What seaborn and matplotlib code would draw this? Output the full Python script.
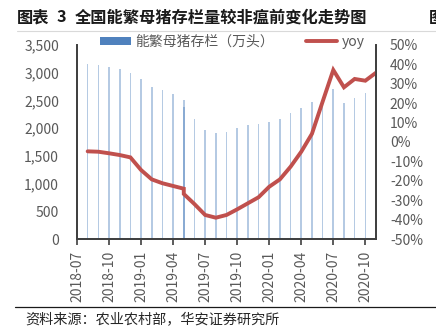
import numpy as np
import pandas as pd
import matplotlib
matplotlib.use("Agg")
import matplotlib.pyplot as plt
from matplotlib.patches import Patch
from matplotlib.lines import Line2D
import seaborn as sns

# Monthly data (month index counted from 2018-07); 2019-05 appears twice in the source table
month_idx = [1, 2, 3, 4, 5, 6, 7, 8, 9, 10, 10, 11, 12, 13, 14, 15, 16, 17,
             18, 19, 20, 21, 22, 23, 24, 25, 26, 27, 28]
sow_stock = [3147, 3135, 3099, 3063, 2991, 2883, 2739, 2685, 2619, 2505, 2385,
             2164, 1966, 1917, 1930, 2002, 2050, 2074, 2110, 2164, 2272, 2362,
             2475, 2560, 2700, 2457, 2541, 2631, np.nan]
yoy_pct = [-4.8, -5.0, -5.8, -6.7, -7.9, -14.4, -19.2, -21.2, -22.6, -24.0, -26.7,
           -31.9, -37.5, -38.9, -37.5, -34.6, -31.5, -28.4, -23.0, -19.2, -12.7,
           -5.0, 4.2, 20.7, 37.0, 28.1, 32.4, 31.5, 35.6]
tick_pos = [0, 3, 6, 9, 12, 15, 18, 21, 24, 27]
tick_labels = ["2018-07", "2018-10", "2019-01", "2019-04", "2019-07",
               "2019-10", "2020-01", "2020-04", "2020-07", "2020-10"]

bar_label = "能繁母猪存栏（万头）"
line_label = "yoy"
title_prefix = "图表"
title_no = "3"
title_main = "全国能繁母猪存栏量较非瘟前变化走势图"
next_title = "图"
source = "资料来源：农业农村部，华安证券研究所"

df = pd.DataFrame({"m": month_idx, "stock": sow_stock, "yoy": yoy_pct})

sns.set_theme(style="white")
plt.rcParams["font.family"] = ["Noto Sans CJK SC", "DejaVu Sans"]

BAR_C = "#4f81bd"
LINE_C = "#c0504d"
TXT_C = "#595959"
SPINE_C = "#404040"

fig = plt.figure(figsize=(4.36, 3.34), dpi=100)
ax = fig.add_axes([77 / 436, 1 - 239.3 / 334, (376 - 77) / 436, (239.3 - 44.7) / 334])
ax2 = ax.twinx()

# thin columns for the sow inventory
ax.bar(df["m"], df["stock"], width=0.15, color=BAR_C, alpha=0.42, linewidth=0)
ax.set_ylim(0, 3500)
ax.set_yticks(range(0, 3501, 500))
ax.set_yticklabels([f"{v:,}" for v in range(0, 3501, 500)])
ax.set_xlim(0, 28)
ax.set_xticks(tick_pos)
ax.set_xticklabels(tick_labels, rotation=90)

# year-on-year change on the right axis
sns.lineplot(data=df, x="m", y="yoy", ax=ax2, sort=False, estimator=None,
             color=LINE_C, linewidth=2.8, solid_joinstyle="miter")
ax2.set_ylim(-50, 50)
ax2.set_yticks(range(-50, 51, 10))
ax2.set_yticklabels([f"{v}%" for v in range(-50, 51, 10)])
ax2.set_xlim(0, 28)
ax2.set_xlabel("")
ax2.set_ylabel("")
ax.set_xlabel("")
ax.set_ylabel("")

for a in (ax, ax2):
    a.grid(False)
    a.spines["top"].set_visible(False)
    for s in ("left", "right", "bottom"):
        a.spines[s].set_color(SPINE_C)
        a.spines[s].set_linewidth(1.3)

ax.tick_params(axis="y", length=0, pad=13, labelsize=10, labelcolor=TXT_C)
ax2.tick_params(axis="y", length=0, pad=10, labelsize=10, labelcolor=TXT_C)
ax.tick_params(axis="x", bottom=True, length=4, width=1.2, color=SPINE_C,
               direction="out", pad=4, labelsize=10, labelcolor=TXT_C)

handles = [Patch(facecolor=BAR_C, edgecolor="none"),
           Line2D([0], [0], color=LINE_C, linewidth=2.8)]
fig.legend(handles, [bar_label, line_label], loc="center left",
           bbox_to_anchor=(100 / 436, 1 - 42 / 334), ncol=2, frameon=False,
           fontsize=10, borderpad=0, borderaxespad=0, handlelength=2.25,
           handleheight=0.55, handletextpad=0.3, columnspacing=2.3,
           labelcolor=TXT_C)

# report-style heading: label, number and caption set apart
title_kw = dict(fontsize=11.7, fontweight="heavy", color="#1a1a1a",
                va="center", ha="left")
ty = 1 - 17.5 / 334
fig.text(17 / 436, ty, title_prefix, **title_kw)
fig.text(57 / 436, ty, title_no, **title_kw)
fig.text(75 / 436, ty, title_main, **title_kw)
fig.text(429 / 436, ty, next_title, **title_kw)
fig.add_artist(Line2D([17 / 436, 1], [1 - 31 / 334, 1 - 31 / 334],
                      transform=fig.transFigure, color="#d9d9d9", linewidth=0.8))
fig.add_artist(Line2D([15 / 436, 1], [1 - 307.3 / 334, 1 - 307.3 / 334],
                      transform=fig.transFigure, color="#1a1a1a", linewidth=0.9))
fig.text(25 / 436, 1 - 320.5 / 334, source, fontsize=10.2, color="#262626",
         va="center", ha="left")

fig.savefig("out.png", dpi=100)
